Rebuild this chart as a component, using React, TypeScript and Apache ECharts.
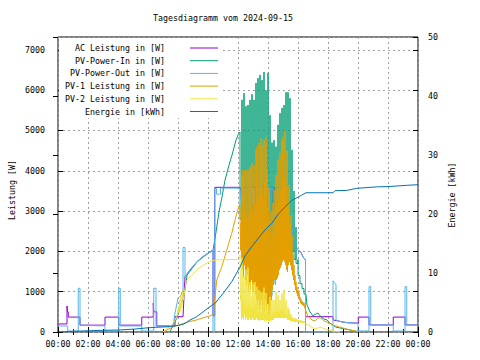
import React, { useEffect, useRef } from "react";
import * as echarts from "echarts";

type Pt = [string, number];

const chartTitle = "Tagesdiagramm vom 2024-09-15";
const leftAxisName = "Leistung [W]";
const rightAxisName = "Energie [kWh]";
const xTickLabels = ["00:00", "02:00", "04:00", "06:00", "08:00", "10:00", "12:00", "14:00", "16:00", "18:00", "20:00", "22:00", "00:00"];
const seriesNames = ["AC Leistung in [W]", "PV-Power-In in [W]", "PV-Power-Out in [W]", "PV-1 Leistung in [W]", "PV-2 Leistung in [W]", "Energie in [kWh]"];
const seriesColors = ["#9400d3", "#009e73", "#56b4e9", "#e69f00", "#f0e442", "#0072b2"];

// AC Leistung [W]
const acPower: Pt[] = [
  ["00:00", 200], ["00:36", 200], ["00:36", 645], ["00:38", 645], ["00:38", 500], ["00:41", 500], ["00:41", 370],
  ["01:28", 370], ["01:28", 170], ["03:08", 170], ["03:08", 370], ["04:03", 370], ["04:03", 170], ["05:35", 170],
  ["05:35", 370], ["06:21", 370], ["06:21", 720], ["06:23", 720], ["06:23", 500], ["06:35", 500], ["06:35", 150],
  ["07:48", 150], ["07:48", 380], ["08:20", 380], ["08:28", 1370], ["08:48", 1540], ["09:16", 1745], ["09:40", 1870],
  ["10:00", 1950], ["10:20", 2030], ["10:20", 400], ["10:27", 400], ["10:27", 3590], ["12:08", 3590], ["12:20", 3300],
  ["12:24", 3590], ["13:08", 3590], ["13:08", 2980], ["13:20", 2980], ["13:24", 3590], ["14:00", 3590], ["14:00", 2900],
  ["14:04", 2900], ["14:08", 3590], ["14:20", 3590], ["14:20", 3030], ["14:24", 3030], ["14:28", 3590], ["15:08", 3590],
  ["15:12", 3300], ["15:20", 2900], ["15:28", 2780], ["15:36", 2600], ["15:44", 2200], ["15:52", 2100], ["16:00", 2030],
  ["16:12", 1980], ["16:20", 1860], ["16:30", 1790], ["16:30", 380], ["18:20", 380], ["18:20", 300], ["18:44", 270],
  ["18:56", 250], ["19:20", 230], ["20:01", 220], ["20:01", 370], ["20:44", 370], ["20:44", 175], ["22:21", 175],
  ["22:21", 370], ["23:08", 370], ["23:08", 175], ["24:00", 175],
];

// PV-Power-Out [W]
const pvOut: Pt[] = [
  ["00:00", 150], ["00:39", 150], ["00:39", 25], ["01:21", 25], ["01:21", 1085], ["01:28", 1085], ["01:28", 170],
  ["02:00", 165], ["02:40", 155], ["03:08", 155], ["03:08", 25], ["04:03", 25], ["04:03", 1085], ["04:09", 1085],
  ["04:09", 150], ["05:35", 150], ["05:35", 25], ["06:23", 25], ["06:23", 1085], ["06:32", 1085], ["06:32", 150],
  ["07:40", 150], ["07:48", 470], ["08:00", 840], ["08:12", 900], ["08:16", 1000], ["08:20", 1000], ["08:20", 2100],
  ["08:28", 2100], ["08:28", 1370], ["08:48", 1540], ["09:16", 1745], ["09:40", 1870], ["10:00", 1950], ["10:20", 2030],
  ["10:20", 0], ["10:27", 0], ["10:27", 3565], ["10:34", 3565], ["10:34", 3420], ["10:50", 3420], ["10:50", 3570],
  ["12:08", 3570], ["12:12", 3275], ["12:16", 3400], ["12:20", 3150], ["12:24", 3570], ["12:56", 3570], ["13:00", 3150],
  ["13:04", 3570], ["13:08", 2900], ["13:12", 2600], ["13:16", 3300], ["13:20", 2600], ["13:24", 3570], ["13:28", 2750],
  ["13:32", 3570], ["14:00", 3570], ["14:04", 3000], ["14:08", 3570], ["14:20", 3570], ["14:24", 2780], ["14:28", 2600],
  ["14:32", 3100], ["14:36", 2700], ["14:40", 3570], ["15:08", 3570], ["15:12", 3300], ["15:20", 2900], ["15:28", 2780],
  ["15:36", 2600], ["15:44", 2200], ["15:52", 2100], ["16:00", 2030], ["16:12", 1980], ["16:20", 1860], ["16:30", 1790],
  ["16:30", 0], ["18:20", 0], ["18:20", 1270], ["18:26", 1220], ["18:32", 1170], ["18:32", 300], ["18:44", 270],
  ["18:56", 250], ["19:20", 230], ["20:00", 220], ["20:00", 25], ["20:44", 25], ["20:44", 1125], ["20:51", 1125],
  ["20:51", 175], ["22:21", 175], ["22:21", 25], ["23:08", 25], ["23:08", 1125], ["23:15", 1125], ["23:15", 175],
  ["24:00", 175],
];

// cloudy midday for PV-1 / PV-2: one entry every 4 minutes (high then low)
const noonTimes = [
  "12:08", "12:12", "12:16", "12:20", "12:24", "12:28", "12:32", "12:36", "12:40", "12:44", "12:48", "12:52", "12:56",
  "13:00", "13:04", "13:08", "13:12", "13:16", "13:20", "13:24", "13:28", "13:32", "13:36", "13:40", "13:44", "13:48", "13:52", "13:56",
  "14:00", "14:04", "14:08", "14:12", "14:16", "14:20", "14:24", "14:28", "14:32", "14:36", "14:40", "14:44", "14:48", "14:52", "14:56",
  "15:00", "15:04", "15:08", "15:12", "15:16", "15:20", "15:24", "15:28", "15:32", "15:36", "15:40", "15:44", "15:48", "15:52", "15:56",
  "16:00", "16:04", "16:08", "16:12", "16:16", "16:20", "16:24",
];
// cloudy midday for PV-Power-In: one peak every 8 minutes
const pvInNoonTimes = [
  "12:08", "12:16", "12:24", "12:32", "12:40", "12:48", "12:56", "13:04", "13:12", "13:20", "13:28", "13:36", "13:44",
  "13:52", "14:00", "14:08", "14:16", "14:24", "14:32", "14:40", "14:48", "14:56", "15:04", "15:12", "15:20", "15:28",
  "15:36", "15:44", "15:52", "16:00", "16:08", "16:16", "16:24",
];

// PV-Power-In [W]
const pvInMorning: Pt[] = [
  ["07:28", 0], ["07:40", 170], ["07:56", 350], ["08:08", 600], ["08:20", 840], ["08:28", 1040], ["08:36", 1410],
  ["08:48", 1510], ["09:16", 1740], ["09:40", 1860], ["10:00", 1960], ["10:20", 2030], ["10:32", 2480], ["10:44", 2980],
  ["10:56", 3350], ["11:08", 3770], ["11:24", 4140], ["11:36", 4390], ["11:52", 4760], ["12:00", 4890],
];
const pvInNoonHigh = [
  4960, 5760, 5930, 5600, 5630, 5760, 5900, 5760, 6180, 6300, 6380, 6250, 6450,
  6000, 6430, 5380, 4700, 4760, 4600, 5140, 5430, 5560, 5630, 5950, 5950, 5800,
  4520, 3500, 2600, 1800, 1300, 1120, 970,
];
const pvInNoonLow = [
  2800, 2000, 1800, 1600, 1500, 1500, 1400, 1300, 1200, 1100, 1100, 1000, 1000,
  1000, 900, 900, 1200, 1500, 1600, 1700, 1800, 2000, 2100, 2100, 2000, 1900,
  2000, 1800, 1700, 1400, 1200, 1080, 940,
];
const pvInEvening: Pt[] = [
  ["16:36", 670], ["16:48", 500], ["17:00", 400], ["17:12", 450], ["17:20", 470], ["17:28", 400],
  ["17:44", 320], ["17:56", 300], ["18:08", 220], ["18:20", 170], ["18:32", 120], ["18:48", 100], ["19:08", 75],
  ["19:28", 50], ["19:48", 25], ["20:00", 0],
];

// PV-1 Leistung [W]
const pv1Morning: Pt[] = [
  ["07:00", 0], ["07:28", 90], ["07:55", 160], ["08:21", 215], ["08:48", 260], ["09:15", 300], ["09:40", 350],
  ["10:08", 400], ["10:21", 450], ["10:28", 880], ["10:35", 1290], ["10:55", 1620], ["11:15", 2030], ["11:35", 2450],
  ["11:55", 2950], ["12:05", 3150],
];
const pv1NoonHigh = [
  3100, 2700, 3900, 4020, 3000, 4020, 2900, 4020, 2800, 4020, 4100, 3100, 4200,
  3000, 4140, 3200, 4520, 4600, 3300, 4690, 3600, 4800, 4640, 3400, 4760, 3700, 4840, 4000,
  3100, 3600, 2500, 3000, 2400, 3200, 2600, 3520, 3900, 3200, 4270, 3300, 4440, 3500, 4760,
  4840, 3800, 5000, 3600, 4500, 3100, 3650, 2700, 2900, 2410, 1910, 1660, 1410, 1240, 1120,
  1040, 970, 870, 820, 770, 740, 720,
];
const pv1NoonLow = [
  2030, 1790, 1540, 1360, 1660, 1290, 1170, 1410, 1040, 1170, 1040, 1290, 970,
  1040, 1170, 920, 790, 670, 790, 550, 670, 790, 550, 670, 500, 790, 550, 670,
  420, 370, 550, 790, 1040, 1170, 1290, 1170, 1290, 1340, 1410, 1540, 1590, 1660, 1740,
  1790, 1740, 1660, 1540, 1490, 1660, 1740, 1660, 1540, 1410, 1290, 1170, 1040, 970, 890,
  840, 790, 720, 690, 670, 650, 620,
];
const pv1Evening: Pt[] = [
  ["16:28", 620], ["16:40", 380], ["16:56", 300], ["17:08", 270], ["17:20", 350], ["17:32", 350], ["17:44", 270],
  ["17:56", 250], ["18:20", 170], ["19:00", 100], ["19:28", 50], ["20:00", 10], ["20:12", 0],
];

// PV-2 Leistung [W]
const pv2Morning: Pt[] = [
  ["07:00", 0], ["07:41", 215], ["07:55", 380], ["08:01", 590], ["08:04", 470], ["08:06", 790], ["08:09", 520],
  ["08:12", 900], ["08:15", 600], ["08:18", 1000], ["08:21", 790], ["08:32", 1250], ["08:48", 1370], ["09:15", 1540],
  ["09:41", 1660], ["10:08", 1750], ["10:35", 1790], ["12:04", 1800],
];
const pv2NoonHigh = [
  1910, 900, 1840, 800, 1400, 700, 1540, 600, 1600, 700, 1240, 600, 900,
  1220, 600, 1240, 700, 1120, 500, 1040, 500, 990, 500, 990, 1100, 450, 970, 500,
  700, 450, 870, 400, 790, 450, 790, 500, 1000, 500, 920, 500, 800, 550, 970,
  500, 1050, 450, 790, 400, 620, 550, 470, 420, 370, 350, 350, 350, 320, 320,
  300, 300, 300, 300, 270, 270, 270,
];
const pv2NoonLow = [
  790, 300, 350, 300, 420, 300, 350, 300, 300, 350, 300, 300, 350,
  300, 300, 300, 350, 300, 300, 270, 300, 300, 300, 300, 270, 300, 270, 300,
  270, 270, 270, 300, 300, 300, 350, 350, 350, 350, 350, 350, 350, 350, 350,
  350, 350, 350, 350, 300, 300, 300, 270, 270, 270, 250, 250, 250, 250, 250,
  250, 250, 220, 220, 220, 220, 220,
];
const pv2Evening: Pt[] = [
  ["16:28", 220], ["16:44", 170], ["17:00", 100], ["17:12", 75], ["17:28", 125], ["17:48", 75], ["18:20", 25], ["18:48", 0],
];

// Energie [kWh]
const energy: Pt[] = [
  ["00:15", 0], ["01:35", 0.17], ["03:04", 0.29], ["04:04", 0.34], ["05:08", 0.5], ["05:52", 0.68], ["06:32", 0.8],
  ["07:24", 0.9], ["08:00", 1.1], ["08:20", 1.3], ["08:32", 1.58], ["08:48", 2.03], ["09:15", 2.59], ["09:41", 3.44],
  ["10:08", 4.29], ["10:28", 4.86], ["11:01", 6.56], ["11:35", 8.53], ["12:08", 11.0], ["12:28", 12.9], ["12:55", 14.46],
  ["13:21", 15.88], ["13:48", 17.3], ["14:15", 18.4], ["14:41", 20.0], ["15:08", 21.2], ["15:35", 22.3], ["16:15", 23.2],
  ["16:32", 23.6], ["18:20", 23.6], ["18:28", 23.95], ["19:15", 24.0], ["19:55", 24.35], ["21:15", 24.6], ["22:00", 24.65],
  ["23:15", 24.86], ["24:00", 24.97],
];

const FONT_FAMILY = '"DejaVu Sans Mono", monospace';
const FONT_SIZE = 8.3;

const toHours = (s: string) => {
  const [h, m] = s.split(":").map(Number);
  return h + m / 60;
};
const pts = (list: Pt[]) => list.map(([t, v]) => [toHours(t), v]);
// zig-zag: high at each time, low two minutes later
const zigzag = (times: string[], hi: number[], lo: number[]) =>
  times.flatMap((t, i) => [
    [toHours(t), hi[i]],
    [toHours(t) + 2 / 60, lo[i]],
  ]);
// narrow peak at each time, then held low until the next peak
const peaks = (times: string[], hi: number[], lo: number[]) =>
  times.flatMap((t, i) => [
    [toHours(t), hi[i]],
    [toHours(t) + 0.3 / 60, lo[i]],
    [toHours(t) + 7.7 / 60, lo[i]],
  ]);

export default function App() {
  const ref = useRef<HTMLDivElement>(null);
  useEffect(() => {
    if (!ref.current) return;
    const chart = echarts.init(ref.current, undefined, { renderer: "svg" });

    const dataSets = [
      pts(acPower),
      [...pts(pvInMorning), ...peaks(pvInNoonTimes, pvInNoonHigh, pvInNoonLow), ...pts(pvInEvening)],
      pts(pvOut),
      [...pts(pv1Morning), ...zigzag(noonTimes, pv1NoonHigh, pv1NoonLow), ...pts(pv1Evening)],
      [...pts(pv2Morning), ...zigzag(noonTimes, pv2NoonHigh, pv2NoonLow), ...pts(pv2Evening)],
      pts(energy),
    ];

    const textStyle = { fontFamily: FONT_FAMILY, fontSize: FONT_SIZE, color: "#000" };
    const gridLine = { show: true, lineStyle: { color: "#a0a0a0", type: [2, 3] as any, width: 1 } };
    const legendY0 = 48;
    const legendDy = 12.7;
    const font = `${FONT_SIZE}px ${FONT_FAMILY}`;

    const graphics: any[] = [
      { type: "rect", z: 1, shape: { x: 59, y: 38, width: 164, height: 80 }, style: { fill: "#fff" } },
      {
        type: "text", x: 223, y: 18, z: 10,
        style: { text: chartTitle, fill: "#000", font, textAlign: "center", textVerticalAlign: "middle" },
      },
      {
        type: "text", x: 12, y: 190, rotation: Math.PI / 2, z: 10,
        style: { text: leftAxisName, fill: "#000", font, textAlign: "center", textVerticalAlign: "middle" },
      },
      {
        type: "text", x: 452, y: 195, rotation: Math.PI / 2, z: 10,
        style: { text: rightAxisName, fill: "#000", font, textAlign: "center", textVerticalAlign: "middle" },
      },
    ];
    seriesNames.forEach((name, i) => {
      const y = legendY0 + i * legendDy;
      graphics.push({
        type: "text", x: 165, y, z: 10,
        style: { text: name, fill: "#000", font, textAlign: "right", textVerticalAlign: "middle" },
      });
      graphics.push({
        type: "line", z: 10, shape: { x1: 190, y1: y, x2: 218, y2: y },
        style: { stroke: seriesColors[i], lineWidth: 1 },
      });
    });

    const tick = { show: true, inside: true, length: 5, lineStyle: { color: "#000" } };
    const minor = { show: true, splitNumber: 2, length: 3, lineStyle: { color: "#000" } };

    chart.setOption({
      animation: false,
      grid: { left: 58, right: 62, top: 37, bottom: 28, show: true, borderColor: "#000", borderWidth: 1, backgroundColor: "transparent" },
      xAxis: [
        {
          type: "value", min: 0, max: 24, interval: 2, position: "bottom",
          axisLine: { show: false },
          axisTick: tick,
          minorTick: minor,
          axisLabel: { ...textStyle, margin: 8, formatter: (v: number) => xTickLabels[Math.round(v / 2)] ?? "" },
          splitLine: gridLine,
        },
        {
          type: "value", min: 0, max: 24, interval: 2, position: "top",
          axisLine: { show: false },
          axisTick: tick,
          minorTick: minor,
          axisLabel: { show: false },
          splitLine: { show: false },
        },
      ],
      yAxis: [
        {
          type: "value", min: 0, max: 7320, interval: 1000, position: "left",
          axisLine: { show: false },
          axisTick: tick,
          axisLabel: { ...textStyle, margin: 13, showMaxLabel: false, formatter: (v: number) => String(v) },
          splitLine: gridLine,
        },
        {
          type: "value", min: 0, max: 50, interval: 10, position: "right",
          axisLine: { show: false },
          axisTick: tick,
          axisLabel: { ...textStyle, margin: 10, formatter: (v: number) => String(v) },
          splitLine: { show: false },
        },
        {
          type: "value", min: 0, max: 7320, interval: 1000, position: "right",
          axisLine: { show: false },
          axisTick: tick,
          axisLabel: { show: false },
          splitLine: { show: false },
        },
      ],
      series: seriesNames.map((name, i) => ({
        name,
        type: "line",
        xAxisIndex: 0,
        yAxisIndex: i === 5 ? 1 : 0,
        data: dataSets[i],
        showSymbol: false,
        symbol: "none",
        silent: true,
        lineStyle: { color: seriesColors[i], width: 1 },
        itemStyle: { color: seriesColors[i] },
        emphasis: { disabled: true },
        z: 2,
      })),
      graphic: graphics,
    });
    return () => chart.dispose();
  }, []);
  return <div ref={ref} style={{ position: "fixed", left: 0, top: 0, width: 480, height: 360, background: "#fff" }} />;
}
